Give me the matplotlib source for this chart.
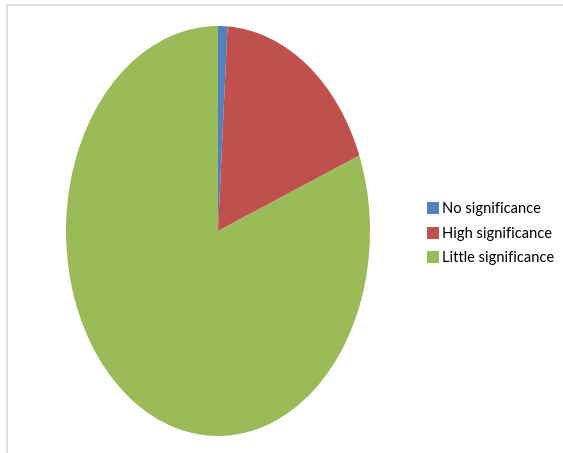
import matplotlib.pyplot as plt
from matplotlib.lines import Line2D
from matplotlib.patches import Patch

labels = ["No significance", "High significance", "Little significance"]
values = [1, 18, 81]
colors = ["#4F81BD", "#C0504D", "#9BBB59"]

W, H = 563, 453
fig = plt.figure(figsize=(W / 100, H / 100), dpi=100)

# chart area border (only left and top edges visible)
fig.add_artist(Line2D([7 / W, 7 / W], [0, 1 - 5 / H], color="#d9d9d9", lw=1.2))
fig.add_artist(Line2D([7 / W, 1], [1 - 5 / H, 1 - 5 / H], color="#d9d9d9", lw=1.2))

# pie is stretched vertically, so no equal aspect
ax = fig.add_axes([66 / W, 17 / H, 304 / W, 410 / H])
ax.pie(values, colors=colors, startangle=90, counterclock=False, radius=1,
       wedgeprops=dict(linewidth=0))
ax.set_xlim(-1, 1)
ax.set_ylim(-1, 1)
ax.set_aspect("auto")
ax.axis("off")

handles = [Patch(facecolor=c, edgecolor="none") for c in colors]
fig.legend(handles, labels, loc="upper left", bbox_to_anchor=(427 / W, 1 - 202 / H),
           frameon=False, prop={"family": ["Lato", "DejaVu Sans"], "size": 10.5},
           handlelength=0.85, handleheight=0.9, handletextpad=0.2, labelspacing=0.72,
           borderpad=0, borderaxespad=0)

fig.savefig("out.png", dpi=100)
